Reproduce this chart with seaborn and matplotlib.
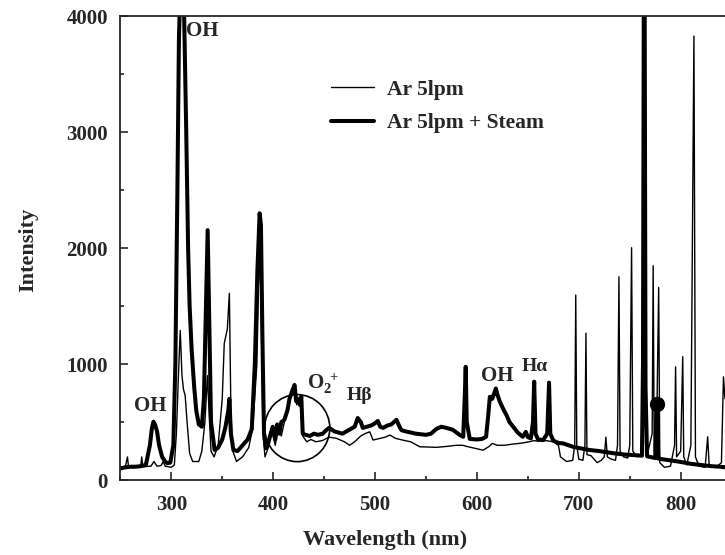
import pandas as pd
import seaborn as sns
import matplotlib.pyplot as plt
from matplotlib.patches import Ellipse
from matplotlib.ticker import MultipleLocator

# Ar 5lpm (thin line) - wavelength (nm), intensity
ar_wl = [250, 255, 257, 258, 265, 270, 271, 272, 280, 283, 286, 290, 292, 294, 300, 303, 305, 307,
         308.8, 310.5, 312, 313.6, 315.5, 318, 321, 327, 330, 333, 335.5, 337, 339, 342, 346, 350,
         352, 355, 357, 358.5, 360, 364, 370, 376, 380, 384, 386.5, 388, 390, 392, 396, 399, 402,
         405, 408, 411, 414, 417, 419, 421, 423, 425, 427, 429, 433, 437, 442, 448, 455, 462, 470,
         475, 480, 486, 490, 494.8, 498, 505, 510, 514.5, 520, 527, 535, 544, 552, 560, 570, 580,
         586, 590, 600, 606, 612, 615, 620, 627, 635, 645, 651, 656, 660, 668, 675, 680, 682, 688,
         694, 696, 697, 698, 700, 704, 706, 707, 708, 712, 718, 722, 725, 726.6, 728, 732, 736,
         738, 739.4, 740.5, 744, 748, 750, 751.8, 753, 757, 761, 762.5, 764, 765.5, 768, 772, 773,
         774, 776, 778.4, 779.5, 784, 790, 794, 795, 796, 800, 802, 803, 806, 810, 813, 814.5, 818,
         824, 826.5, 828, 836, 840, 842, 843.5]
ar_int = [110, 120, 200, 115, 110, 120, 200, 115, 120, 160, 120, 125, 160, 120, 110, 130, 400, 900,
          1290, 900, 780, 730, 500, 230, 160, 160, 250, 500, 900, 600, 250, 200, 300, 700,
          1180, 1300, 1610, 600, 260, 160, 200, 280, 450, 1000, 2000, 1600, 400, 200, 300, 420, 300,
          450, 380, 500, 600, 700, 780, 820, 650, 700, 680, 380, 330, 350, 330, 340, 370, 360, 330,
          300, 330, 380, 400, 416, 345, 360, 370, 388, 360, 345, 330, 287, 285, 282, 290, 300,
          300, 290, 270, 258, 290, 316, 300, 300, 310, 320, 330, 340, 335, 340, 330, 300, 200, 160,
          170, 300, 1595, 300, 180, 170, 300, 1267, 220, 210, 150, 170, 200, 370, 200, 180, 170,
          300, 1753, 250, 200, 190, 300, 2003, 250, 200, 220, 600, 4300, 500, 250, 400, 1848,
          250, 180, 1661, 150, 110, 120, 300, 977, 200, 250, 1063, 200, 130, 300, 3828, 200, 120,
          110, 373, 120, 120, 150, 890, 700]

# Ar 5lpm + Steam (thick line)
st_wl = [250, 255, 260, 265, 270, 275, 279, 281, 282.5, 284, 286, 288, 291, 294, 296, 299, 302, 304,
         306, 307.5, 309, 312, 313.5, 314.7, 316.5, 318, 320, 322.5, 324.5, 327, 330, 332, 334,
         335.7, 337, 339, 342.5, 346, 350, 353, 356, 357, 358.5, 361, 365, 370, 375, 379, 382,
         384.5, 386.7, 388, 389.5, 391, 393, 396, 399.5, 402, 404, 406, 408, 411, 414, 416, 419,
         421, 422.5, 424, 426, 427.6, 429, 432, 436, 440, 444, 448.6, 452, 455, 460, 464, 468, 472,
         476, 480, 483, 486, 488, 492, 496, 500, 502.7, 505, 508, 512, 516, 521, 524, 526, 530, 535,
         540, 545, 550, 555, 560, 565, 570, 576, 580, 583, 586.5, 588, 589, 590, 593, 600, 605, 609,
         611, 612.7, 615, 618.6, 620, 622.5, 626, 629, 632, 635.5, 640, 645, 648, 650, 653, 655,
         656.2, 657.5, 660, 665, 669, 670.8, 672, 675, 680, 684.7, 690, 695, 701, 710, 720, 733.5,
         745, 755, 762, 763, 763.8, 764.6, 765.5, 767, 775, 776.5, 778, 790, 799, 810, 820, 830,
         838.6, 843.5]
st_int = [100, 110, 115, 115, 120, 130, 300, 450, 503, 480, 420, 300, 200, 160, 146, 150, 300, 1000,
          2500, 3800, 4300, 4300, 3600, 2990, 2000, 1500, 1120, 800, 600, 480, 460, 700, 1500,
          2155, 1500, 500, 260, 280, 350, 450, 600, 700, 400, 260, 250, 300, 350, 440, 1000,
          1800, 2300, 2200, 1200, 400, 275, 350, 460, 350, 480, 400, 500, 520, 600, 700, 775,
          820, 680, 700, 650, 720, 400, 390, 380, 400, 390, 400, 430, 450, 420, 410, 400, 420,
          440, 460, 535, 500, 450, 460, 470, 490, 510, 460, 450, 470, 480, 520, 460, 430, 420, 410,
          400, 395, 390, 400, 440, 460, 450, 435, 410, 390, 373, 700, 977, 500, 355, 350, 355, 373,
          550, 718, 700, 790, 740, 675, 610, 560, 500, 460, 410, 373, 415, 370, 360, 500,
          848, 400, 350, 345, 400, 840, 400, 340, 320, 316, 300, 285, 275, 260, 250, 232,
          220, 215, 210, 1000, 4300, 4300, 800, 205, 190, 700, 185, 170, 158, 140, 130, 120,
          115, 110]

labels = ["Ar 5lpm", "Ar 5lpm + Steam"]

df = pd.concat([
    pd.DataFrame({"Wavelength": ar_wl, "Intensity": ar_int, "Series": labels[0]}),
    pd.DataFrame({"Wavelength": st_wl, "Intensity": st_int, "Series": labels[1]}),
])

sns.set_style("ticks")
plt.rcParams["font.family"] = ["Liberation Serif", "DejaVu Serif"]
plt.rcParams["font.weight"] = "bold"
plt.rcParams["mathtext.fontset"] = "custom"
plt.rcParams["mathtext.rm"] = "Liberation Serif:bold"
plt.rcParams["mathtext.bf"] = "Liberation Serif:bold"
plt.rcParams["mathtext.it"] = "Liberation Serif:bold"

fig = plt.figure(figsize=(7.25, 5.55), dpi=100)
ax = fig.add_axes([0.166, 0.135, 0.834, 0.836])

sns.lineplot(data=df, x="Wavelength", y="Intensity", hue="Series", size="Series",
             sizes={labels[0]: 1.0, labels[1]: 2.9}, palette=["black", "black"],
             estimator=None, sort=False, ax=ax)

ax.set_xlim(250, 843.5)
ax.set_ylim(0, 4000)
ax.xaxis.set_major_locator(MultipleLocator(100))
ax.xaxis.set_minor_locator(MultipleLocator(50))
ax.yaxis.set_major_locator(MultipleLocator(1000))
ax.yaxis.set_minor_locator(MultipleLocator(500))
ax.tick_params(which="both", direction="in", labelsize=15, width=1.2)
ax.tick_params(which="major", length=6)
ax.tick_params(which="minor", length=3)
ax.tick_params(axis="y", pad=9)
ax.tick_params(axis="x", pad=11)
for lab in ax.get_xticklabels() + ax.get_yticklabels():
    lab.set_fontweight("bold")
for s in ["left", "bottom", "top"]:
    ax.spines[s].set_linewidth(1.3)
ax.spines["right"].set_visible(False)

ax.set_xlabel("Wavelength (nm)", fontsize=16, fontweight="bold")
ax.set_ylabel("Intensity", fontsize=16, fontweight="bold")
ax.xaxis.set_label_coords(0.437, -0.108)
ax.yaxis.set_label_coords(-0.135, 0.496)

# annotations
ax.text(279.7, 642, "OH", fontsize=15, fontweight="bold", ha="center", va="center")
ax.text(314.6, 3870, "OH", fontsize=15, fontweight="bold", ha="left", va="center")
ax.text(433, 830, r"O$_2^{\ +}$", fontsize=15, fontweight="bold", ha="left", va="center")
ax.text(485, 733, "Hβ", fontsize=14, fontweight="bold", ha="center", va="center")
ax.text(619.5, 897, "OH", fontsize=15, fontweight="bold", ha="center", va="center")
ax.text(657, 983, "Hα", fontsize=14, fontweight="bold", ha="center", va="center")
ax.add_patch(Ellipse((423.6, 448), 64, 578, fill=False, edgecolor="black", lw=1.2))
ax.plot([776.5], [655], "o", color="black", markersize=10)

ax.legend(handles=ax.get_lines()[:2], labels=labels, loc="upper left",
          bbox_to_anchor=(0.317, 0.905), frameon=False, fontsize=15.5,
          handlelength=2.0, handletextpad=0.6, labelspacing=0.63)
leg = ax.get_legend()
for t in leg.get_texts():
    t.set_fontweight("bold")

fig.savefig("out.png", dpi=100)
